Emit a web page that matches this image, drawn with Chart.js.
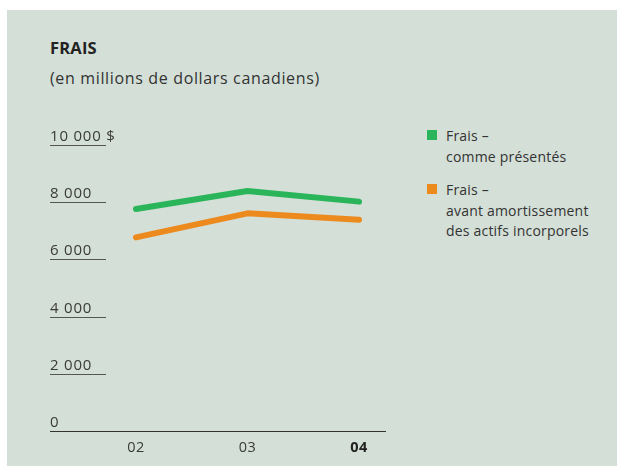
<!DOCTYPE html>
<html>
<head>
<meta charset="utf-8">
<script src="https://cdn.jsdelivr.net/npm/chart.js@4/dist/chart.umd.min.js"></script>
<style>
  html, body { margin: 0; padding: 0; background: #fff; }
  body { width: 618px; height: 466px; position: relative; overflow: hidden; font-family: "Open Sans", "Noto Sans", sans-serif; color: #333; }
  #panel { position: absolute; left: 7px; top: 10px; width: 610px; height: 456px; background: #d4dfd7; }
  #chart { position: absolute; left: 0; top: 0; }
  .title { position: absolute; left: 50px; top: 36px; font-size: 16.5px; font-weight: bold; letter-spacing: 0.2px; color: #222; }
  .sub { position: absolute; left: 50px; top: 67px; font-size: 16px; letter-spacing: 0.65px; color: #333; }
  .leg { position: absolute; left: 427px; font-size: 14px; letter-spacing: 0.2px; line-height: 20.5px; color: #333; }
  .leg i { position: absolute; left: 0; top: 4px; width: 10px; height: 10px; }
  .leg span { display: block; margin-left: 19px; }
</style>
</head>
<body>
<div id="panel"></div>
<div class="title">FRAIS</div>
<div class="sub">(en millions de dollars canadiens)</div>
<div class="leg" style="top:126px"><i style="background:#2bb55a"></i><span>Frais –<br>comme présentés</span></div>
<div class="leg" style="top:180px"><i style="background:#ec8a1e"></i><span>Frais –<br>avant amortissement<br>des actifs incorporels</span></div>
<canvas id="chart" width="618" height="466"></canvas>
<script>
// Data
const years = ['02', '03', '04'];
const fraisPresentes = [7760, 8390, 8020];
const fraisAvantAmort = [6770, 7610, 7390];
const yTicks = [0, 2000, 4000, 6000, 8000, 10000];
const yTickLabels = ['0', '2 000', '4 000', '6 000', '8 000', '10 000 $'];

// Draws the short tick rules, labels above them, the base line and year labels
const axisPlugin = {
    id: 'axisPlugin',
    beforeDatasetsDraw(chart) {
        const ctx = chart.ctx;
        const y = chart.scales.y;
        const x = chart.scales.x;
        ctx.save();
        ctx.font = '15px "Open Sans", "Noto Sans", sans-serif';
        ctx.letterSpacing = '0.8px';
        ctx.textAlign = 'left';
        ctx.textBaseline = 'alphabetic';
        yTicks.forEach((v, i) => {
            const py = Math.round(y.getPixelForValue(v)) + 0.5;
            ctx.strokeStyle = v === 0 ? '#333' : '#555';
            ctx.lineWidth = 1.2;
            ctx.beginPath();
            ctx.moveTo(50, py);
            ctx.lineTo(v === 0 ? 386 : 106, py);
            ctx.stroke();
            ctx.fillStyle = '#3a3a3a';
            ctx.fillText(yTickLabels[i], 50, py - 5);
        });
        ctx.textAlign = 'center';
        ctx.letterSpacing = '0.4px';
        years.forEach((yr, i) => {
            const last = i === years.length - 1;
            ctx.font = (last ? 'bold ' : '') + '14.5px "Open Sans", "Noto Sans", sans-serif';
            ctx.fillStyle = last ? '#222' : '#3a3a3a';
            ctx.fillText(yr, x.getPixelForValue(i), 452);
        });
        ctx.restore();
    }
};

new Chart(document.getElementById('chart'), {
    type: 'line',
    data: {
        labels: years,
        datasets: [{
            label: 'Frais – comme présentés',
            data: fraisPresentes,
            borderColor: '#2bb55a',
            borderWidth: 6,
            borderCapStyle: 'round',
            borderJoinStyle: 'round',
            pointRadius: 0,
            fill: false,
            tension: 0
        }, {
            label: 'Frais – avant amortissement des actifs incorporels',
            data: fraisAvantAmort,
            borderColor: '#ec8a1e',
            borderWidth: 6,
            borderCapStyle: 'round',
            borderJoinStyle: 'round',
            pointRadius: 0,
            fill: false,
            tension: 0
        }]
    },
    options: {
        responsive: false,
        animation: false,
        layout: { padding: { left: 136, right: 618 - 359, top: 145, bottom: 466 - 431 } },
        plugins: { legend: { display: false }, title: { display: false }, tooltip: { enabled: false } },
        scales: {
            x: { display: false, offset: false },
            y: { display: false, min: 0, max: 10000, ticks: { stepSize: 2000 } }
        }
    },
    plugins: [axisPlugin]
});
</script>
</body>
</html>
